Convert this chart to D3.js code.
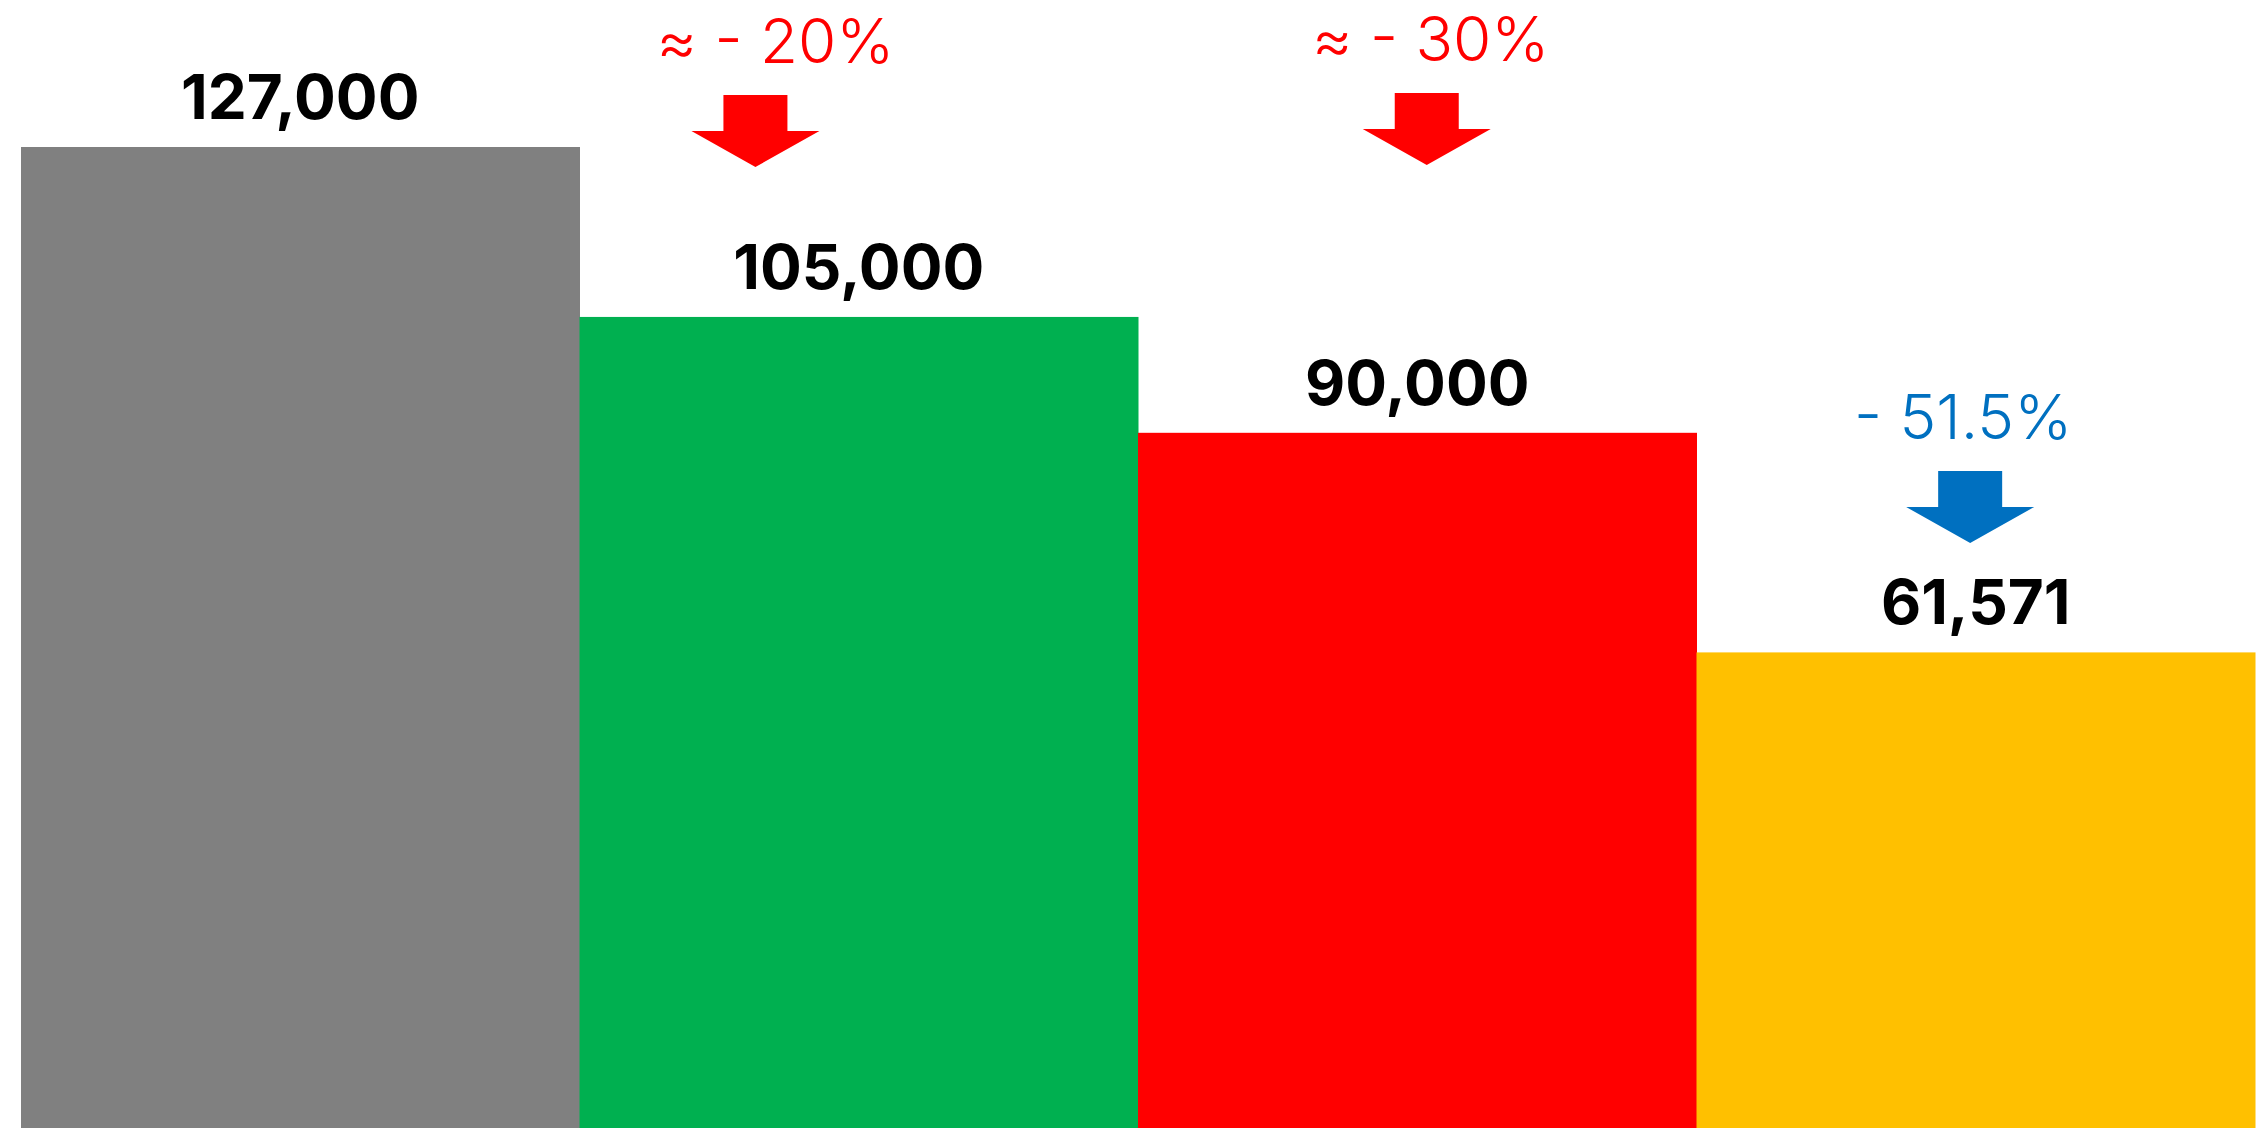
<!DOCTYPE html>
<html>
<head>
<meta charset="utf-8">
<script src="https://cdn.jsdelivr.net/npm/d3@7"></script>
<style>
  body { margin: 0; background: #fff; }
</style>
</head>
<body>
<div id="chartDiv"></div>
<script>
// data
var categories = ["Bar 1", "Bar 2", "Bar 3", "Bar 4"];
var values = [127000, 105000, 90000, 61571];
var barColors = ["#808080", "#00B050", "#FF0000", "#FFC000"];

// change annotations (which bar they point at)
var changeBars = [1, 2, 3];
var changeLabels = ["≈ - 20%", "≈ - 30%", "- 51.5%"];
var changeColors = ["#FF0000", "#FF0000", "#0070C0"];

// layout
var width = 2260;
var height = 1133;
var margin = { top: 147, right: 5, bottom: 5, left: 21 };
var arrowFrac = [0.315, 0.517, 0.49];   // arrow centre across the band
var arrowTipY = [167, 165, 543];
var textDx = [20, 4, -7];
var labelFont = "Inter, 'DejaVu Sans', sans-serif";

var chart = d3.select("#chartDiv").append("svg")
  .attr("width", width)
  .attr("height", height);

var x = d3.scaleBand()
  .domain(categories)
  .range([margin.left, width - margin.right])
  .padding(0);

var y = d3.scaleLinear()
  .domain([0, d3.max(values)])
  .range([height - margin.bottom, margin.top]);

// bars
chart.selectAll(".bar")
  .data(values)
  .enter().append("rect")
    .attr("class", "bar")
    .attr("x", function(d, i) { return x(categories[i]); })
    .attr("y", function(d) { return y(d); })
    .attr("width", x.bandwidth() + 0.5)
    .attr("height", function(d) { return y(0) - y(d); })
    .style("fill", function(d, i) { return barColors[i]; });

// value labels
chart.selectAll(".val")
  .data(values)
  .enter().append("text")
    .attr("class", "val")
    .attr("x", function(d, i) { return x(categories[i]) + x.bandwidth() / 2; })
    .attr("y", function(d) { return y(d) - 28; })
    .attr("text-anchor", "middle")
    .style("font-family", labelFont)
    .style("font-weight", 700)
    .style("font-size", "62px")
    .style("fill", "#000")
    .text(function(d) { return d3.format(",")(d); });

// arrows + percentage text
changeBars.forEach(function(b, i) {
  var cx = x(categories[b]) + x.bandwidth() * arrowFrac[i];
  var tip = arrowTipY[i];
  var pts = [
    [cx - 32, tip - 72], [cx + 32, tip - 72], [cx + 32, tip - 36],
    [cx + 64, tip - 36], [cx, tip], [cx - 64, tip - 36], [cx - 32, tip - 36]
  ];
  chart.append("path")
    .attr("d", d3.line()(pts) + "Z")
    .style("fill", changeColors[i]);

  chart.append("text")
    .attr("x", cx + textDx[i])
    .attr("y", tip - 72 - 32)
    .attr("text-anchor", "middle")
    .style("font-family", labelFont)
    .style("font-weight", 300)
    .style("font-size", "62px")
    .style("fill", changeColors[i])
    .text(changeLabels[i]);
});
</script>
</body>
</html>
